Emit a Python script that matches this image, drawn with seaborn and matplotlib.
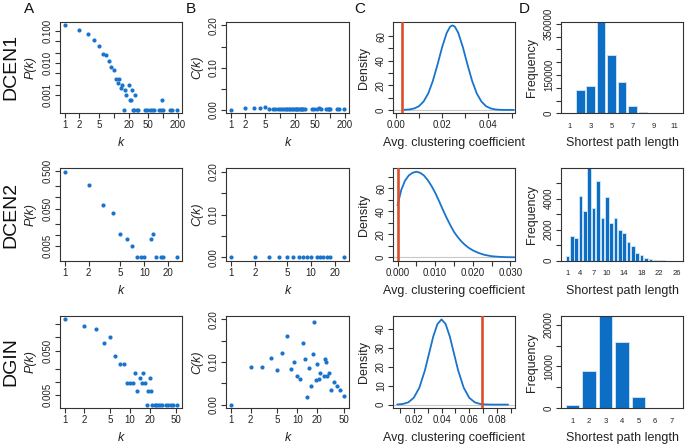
import numpy as np
import pandas as pd
import seaborn as sns
import matplotlib.pyplot as plt
from matplotlib.ticker import NullLocator

# ---------------- data ----------------
# DCEN1
dcen1_k = [1, 2, 3, 4, 5, 6, 7, 8, 9, 10, 11, 12, 13, 14, 15, 16, 17, 18, 20, 21, 22, 23, 25, 26, 27,
           29, 31, 44, 47, 55, 60, 66, 83, 91, 95, 102, 138, 155, 197]
dcen1_pk = [0.149, 0.107, 0.079, 0.052, 0.033, 0.0195, 0.0172, 0.0112, 0.0076, 0.006, 0.0031, 0.0024,
            0.0031, 0.0017, 0.0021, 0.00034, 0.00138, 0.00103, 0.0021, 0.00069, 0.00069, 0.00138,
            0.00034, 0.00034, 0.00103, 0.00034, 0.00034, 0.00034, 0.00034, 0.00034, 0.00034, 0.00034,
            0.00034, 0.00034, 0.00069, 0.00034, 0.00034, 0.00034, 0.00034]
dcen1_ck = [0, 0.004, 0.004, 0.004, 0.006, 0.003, 0.002, 0.003, 0.002, 0.002, 0.003, 0.002, 0.002,
            0.001, 0.002, 0.002, 0.002, 0.001, 0.003, 0.002, 0.002, 0.002, 0.001, 0.002, 0.002, 0.001,
            0.002, 0.001, 0.002, 0.002, 0.004, 0.001, 0.002, 0.001, 0.002, 0.002, 0.001, 0.001, 0.001]
dcen1_dx = [0.0036, 0.006, 0.008, 0.010, 0.012, 0.014, 0.016, 0.018, 0.020, 0.022, 0.0235, 0.0245,
            0.0255, 0.027, 0.029, 0.031, 0.033, 0.035, 0.037, 0.039, 0.041, 0.043, 0.045, 0.048, 0.051]
dcen1_dy = [0.1, 0.4, 1.2, 3.0, 6.8, 13.3, 23.5, 36.7, 50.9, 62.7, 67.8, 68.8, 67.8, 62.7, 50.9, 36.7,
            23.5, 13.3, 6.8, 3.0, 1.2, 0.4, 0.1, 0.0, 0.0]
dcen1_obs = 0.0026
dcen1_len = ["1", "2", "3", "4", "5", "6", "7", "8", "9", "10", "11"]
dcen1_freq = [2500, 90000, 108000, 357000, 227500, 121700, 30400, 5300, 600, 50, 0]

# DCEN2
dcen2_k = [1, 2, 3, 4, 5, 6, 7, 8, 9, 10, 12, 13, 14, 16, 17, 26]
dcen2_pk = [0.48, 0.21, 0.0625, 0.039, 0.0106, 0.0078, 0.0051, 0.00255, 0.00255, 0.00255, 0.0078,
            0.0106, 0.00255, 0.00255, 0.00255, 0.00255]
dcen2_ck = [0] * 16
dcen2_dx = [0.000, 0.001, 0.002, 0.003, 0.004, 0.005, 0.006, 0.007, 0.008, 0.009, 0.010, 0.011, 0.012,
            0.013, 0.014, 0.015, 0.016, 0.017, 0.018, 0.019, 0.020, 0.0215, 0.023, 0.025, 0.027, 0.029,
            0.031]
dcen2_dy = [45, 58.5, 66.5, 71, 73.3, 74.2, 73.3, 71, 67, 62, 56, 49, 41.5, 34.5, 28, 22, 17.5, 13.6,
            10.5, 8, 6, 3.8, 2.2, 0.9, 0.4, 0.1, 0.0]
dcen2_obs = 0.0
dcen2_len = [str(i) for i in range(1, 27)]
dcen2_freq = [280, 1620, 1470, 4170, 3180, 5950, 3420, 5120, 2770, 4110, 2420, 2770, 1990, 1800, 1190,
              970, 500, 370, 170, 110, 60, 40, 20, 10, 5, 2]

# DGIN
dgin_k = [1, 2, 3, 4, 5, 6, 7, 8, 9, 10, 11, 12, 13, 14, 15, 16, 17, 18, 19, 20, 21, 22, 24, 25, 27,
          29, 31, 35, 38, 42, 46, 53]
dgin_pk = [0.253, 0.18, 0.156, 0.0766, 0.102, 0.0374, 0.0253, 0.0253, 0.0094, 0.0094, 0.0094, 0.0157,
           0.0062, 0.0124, 0.0094, 0.0157, 0.0094, 0.0031, 0.0062, 0.0124, 0.0062, 0.0031, 0.0031,
           0.0031, 0.0031, 0.0031, 0.0031, 0.0031, 0.0031, 0.0031, 0.0031, 0.0031]
dgin_ck_k = [1, 2, 3, 4, 5, 6, 7, 8, 9, 10, 11, 12, 13, 14, 15, 16, 17, 18, 19, 20, 21, 22, 25, 26,
             27, 28, 30, 32, 36, 40, 43, 51]
dgin_ck = [0, 0.0875, 0.0875, 0.110, 0.0806, 0.122, 0.160, 0.0837, 0.101, 0.066, 0.059, 0.1445, 0.108,
           0.018, 0.085, 0.044, 0.119, 0.195, 0.058, 0.095, 0.060, 0.075, 0.066, 0.107, 0.099, 0.068,
           0.075, 0.034, 0.052, 0.043, 0.035, 0.0205]
dgin_dx = [0.008, 0.012, 0.016, 0.020, 0.024, 0.028, 0.031, 0.034, 0.037, 0.040, 0.043, 0.046, 0.049,
           0.052, 0.056, 0.060, 0.064, 0.068, 0.072, 0.076, 0.080, 0.084, 0.088]
dgin_dy = [0.07, 0.31, 1.17, 3.6, 8.9, 18.0, 26.9, 35.8, 42.4, 44.9, 42.4, 35.8, 26.9, 18.0, 8.9, 3.6,
           1.17, 0.31, 0.07, 0.01, 0, 0, 0]
dgin_obs = 0.069
dgin_len = ["1", "2", "3", "4", "5", "6", "7"]
dgin_freq = [800, 8800, 22160, 15900, 2720, 20, 0]

# ---------------- style ----------------
sns.set_style("ticks")
plt.rcParams['font.family'] = ['Liberation Sans', 'DejaVu Sans']

BLUE = '#1874cd'
BAR = '#0d6ec6'
RED = '#d9502c'
AXC = '#333333'
W, H = 685, 446

fig = plt.figure(figsize=(6.85, 4.46), dpi=100)

cols = [(60, 182), (226, 349), (393, 515), (561, 683)]
rows = [(22, 113.3), (168.3, 260.7), (316, 408)]


def rlim(lo, hi):
    d = (hi - lo) * 0.04
    return lo - d, hi + d


def rlog(lo, hi):
    a, b = rlim(np.log10(lo), np.log10(hi))
    return 10 ** a, 10 ** b


def make_ax(r, c):
    x0, x1 = cols[c]
    y0, y1 = rows[r]
    ax = fig.add_axes([x0 / W, 1 - y1 / H, (x1 - x0) / W, (y1 - y0) / H])
    return ax


def finish(ax, r, c, xlab, ylab, xitalic=False, yitalic=False):
    for s in ax.spines.values():
        s.set_visible(True)
        s.set_color(AXC)
        s.set_linewidth(0.8)
    ax.tick_params(direction='out', length=3.5, width=0.8, color=AXC, labelsize=7,
                   labelcolor='#222222', pad=1.5)
    h = rows[r][1] - rows[r][0]
    w = cols[c][1] - cols[c][0]
    ax.set_xlabel(xlab, fontsize=9, style='italic' if xitalic else 'normal', color='#222222')
    ax.set_ylabel(ylab, fontsize=9, style='italic' if yitalic else 'normal', color='#222222')
    ax.xaxis.set_label_coords(0.5, -30 / h)
    ax.xaxis.label.set_va('center')
    ax.yaxis.set_label_coords(-29 / w, 0.5)
    ax.yaxis.label.set_va('center')


def set_y(ax, ticks, labels):
    ax.set_yticks(ticks, labels, rotation=90, va='center')
    ax.yaxis.set_minor_locator(NullLocator())


def set_x(ax, ticks, labels):
    ax.set_xticks(ticks, labels)
    ax.xaxis.set_minor_locator(NullLocator())


def pk_panel(r, k, pk, xt, xl, yt, yl):
    ax = make_ax(r, 0)
    sns.scatterplot(x=k, y=pk, ax=ax, color=BLUE, s=9, linewidth=0)
    ax.set_xscale('log')
    ax.set_yscale('log')
    ax.set_xlim(*rlog(min(k), max(k)))
    ax.set_ylim(*rlog(min(pk), max(pk)))
    set_x(ax, xt, xl)
    set_y(ax, yt, yl)
    finish(ax, r, 0, 'k', 'P(k)', True, True)


def ck_panel(r, k, ck, xt, xl):
    ax = make_ax(r, 1)
    sns.scatterplot(x=k, y=ck, ax=ax, color=BLUE, s=9, linewidth=0)
    ax.set_xscale('log')
    ax.set_xlim(*rlog(min(k), max(k)))
    ax.set_ylim(*rlim(0, 0.2))
    set_x(ax, xt, xl)
    set_y(ax, [0, 0.05, 0.10, 0.15, 0.20], ['0.00', '', '0.10', '', '0.20'])
    finish(ax, r, 1, 'k', 'C(k)', True, True)


def dens_panel(r, dx, dy, obs, xlim, xt, xl, yt, yl):
    ax = make_ax(r, 2)
    ax.axhline(0, color='#c8c8c8', lw=0.8, zorder=1)
    sns.lineplot(x=dx, y=dy, ax=ax, color=BLUE, lw=1.3, zorder=2)
    ax.axvline(obs, color=RED, lw=1.9, zorder=3)
    ax.set_xlim(*xlim)
    ax.set_ylim(*rlim(0, max(dy)))
    set_x(ax, xt, xl)
    set_y(ax, yt, yl)
    finish(ax, r, 2, 'Avg. clustering coefficient', 'Density')


def bar_panel(r, lens, freq, shown, yt, yl):
    ax = make_ax(r, 3)
    df = pd.DataFrame({'len': lens, 'freq': freq})
    sns.barplot(data=df, x='len', y='freq', ax=ax, color=BAR, saturation=1, width=0.833,
                edgecolor='#d6e6f5', linewidth=0.6)
    n = len(lens)
    lo = (-0.5 - 0.04 * (1.2 * n - 0.2)) / 1.2
    hi = (1.2 * n + 0.04 * (1.2 * n - 0.2) - 0.7) / 1.2
    ax.set_xlim(lo, hi)
    ax.set_ylim(0, max(freq))
    idx = [lens.index(s) for s in shown]
    set_x(ax, idx, shown)
    set_y(ax, yt, yl)
    finish(ax, r, 3, 'Shortest path length', 'Frequency')
    ax.tick_params(axis='x', length=0, labelsize=5.5, pad=7)


# ---------------- row 1 : DCEN1 ----------------
k1t = [1, 2, 5, 10, 20, 50, 100, 200]
k1l = ['1', '2', '5', '', '20', '50', '', '200']
pk_panel(0, dcen1_k, dcen1_pk, k1t, k1l,
         [0.001, 0.002, 0.005, 0.01, 0.02, 0.05, 0.1],
         ['0.001', '', '', '0.010', '', '', '0.100'])
ck_panel(0, dcen1_k, dcen1_ck, k1t, k1l)
dens_panel(0, dcen1_dx, dcen1_dy, dcen1_obs, (-0.0012, 0.0515),
           [0, 0.01, 0.02, 0.03, 0.04, 0.05], ['0.00', '', '0.02', '', '0.04', ''],
           [0, 10, 20, 30, 40, 50, 60], ['0', '', '20', '', '40', '', '60'])
bar_panel(0, dcen1_len, dcen1_freq, ['1', '3', '5', '7', '9', '11'],
          list(range(0, 350001, 50000)),
          ['0', '', '', '150000', '', '', '', '350000'])

# ---------------- row 2 : DCEN2 ----------------
k2t = [1, 2, 5, 10, 20]
k2l = ['1', '2', '5', '10', '20']
pk_panel(1, dcen2_k, dcen2_pk, k2t, k2l,
         [0.005, 0.01, 0.02, 0.05, 0.1, 0.2, 0.5],
         ['0.005', '', '', '0.050', '', '', '0.500'])
ck_panel(1, dcen2_k, dcen2_ck, k2t, k2l)
dens_panel(1, dcen2_dx, dcen2_dy, dcen2_obs, rlim(0, 0.03),
           [0, 0.005, 0.01, 0.015, 0.02, 0.025, 0.03],
           ['0.000', '', '0.010', '', '0.020', '', '0.030'],
           [0, 10, 20, 30, 40, 50, 60, 70], ['0', '', '20', '', '40', '', '60', ''])
bar_panel(1, dcen2_len, dcen2_freq, ['1', '4', '7', '10', '14', '18', '22', '26'],
          [0, 1000, 2000, 3000, 4000, 5000], ['0', '', '2000', '', '4000', ''])

# ---------------- row 3 : DGIN ----------------
k3t = [1, 2, 5, 10, 20, 50]
k3l = ['1', '2', '5', '10', '20', '50']
pk_panel(2, dgin_k, dgin_pk, k3t, k3l,
         [0.005, 0.01, 0.02, 0.05, 0.1, 0.2],
         ['0.005', '', '', '0.050', '', ''])
ck_panel(2, dgin_ck_k, dgin_ck, k3t, k3l)
dens_panel(2, dgin_dx, dgin_dy, dgin_obs, (0.005, 0.093),
           [0.01, 0.02, 0.03, 0.04, 0.05, 0.06, 0.07, 0.08, 0.09],
           ['', '0.02', '', '0.04', '', '0.06', '', '0.08', ''],
           [0, 10, 20, 30, 40], ['0', '10', '20', '30', '40'])
bar_panel(2, dgin_len, dgin_freq, dgin_len,
          [0, 5000, 10000, 15000, 20000], ['0', '', '10000', '', '20000'])

# ---------------- panel letters and row names ----------------
for lab, x in zip(['A', 'B', 'C', 'D'], [29, 191, 360, 524]):
    fig.text(x / W, 1 - 9 / H, lab, fontsize=11, ha='center', va='center', color='#111111')
for lab, y in zip(['DCEN1', 'DCEN2', 'DGIN'], [67, 215, 362]):
    fig.text(11 / W, 1 - y / H, lab, fontsize=14, rotation=90, ha='center', va='center',
             color='#111111')

plt.savefig('out.png', dpi=100)
